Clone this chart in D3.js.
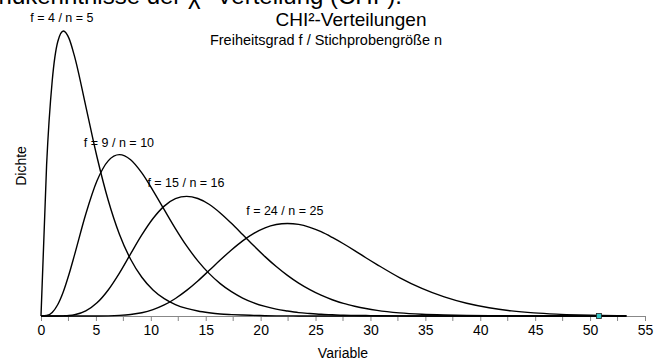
<!DOCTYPE html>
<html>
<head>
<meta charset="utf-8">
<script src="https://cdn.jsdelivr.net/npm/d3@7"></script>
<style>
  body { margin: 0; background: #fff; }
  svg { display: block; font-family: "Liberation Sans", Arial, sans-serif; }
</style>
</head>
<body>
<svg id="chart" width="663" height="361"></svg>
<script>
// x positions (as placed in the picture) where the densities were read
const xs = [0, 0.51, 1.02, 1.53, 2.04, 2.55, 3.06, 4.08, 5.1, 6.12, 7.14, 8.16, 9.18, 10.2,
  11.22, 12.24, 13.26, 14.28, 15.3, 16.32, 17.34, 18.36, 19.38, 20.4, 21.42, 22.44,
  23.46, 24.48, 25.5, 26.52, 27.54, 28.56, 29.58, 30.6,
  32.64, 34.68, 36.72, 38.76, 40.8, 42.84, 44.88, 46.92, 48.96, 51.0, 52.5, 53.3];

const densF4 = [0, 0.0974, 0.1516, 0.1771, 0.1839, 0.1791, 0.1673, 0.1353, 0.1026, 0.0747,
  0.0528, 0.0366, 0.0250, 0.0168, 0.0112, 0.0074, 0.0049, 0.0032, 0.0021,
  0.0013, 0.0009, 0.0006, 0.0004, 0.0002, 0.0001, 0.0001, 0, 0, 0, 0, 0, 0, 0, 0,
  0, 0, 0, 0, 0, 0, 0, 0, 0, 0, 0, 0];

const densF9 = [0, 0.0003, 0.0023, 0.0074, 0.0158, 0.0269, 0.0396, 0.0658, 0.0872, 0.1001,
  0.1041, 0.1008, 0.0923, 0.0809, 0.0686, 0.0564, 0.0452, 0.0356, 0.0275,
  0.0209, 0.0157, 0.0116, 0.0085, 0.0062, 0.0044, 0.0032, 0.0022, 0.0016, 0.0011,
  0.0008, 0.0005, 0.0004, 0.0003, 0.0002,
  0.0001, 0, 0, 0, 0, 0, 0, 0, 0, 0, 0, 0];

const densF15 = [0, 0, 0, 0, 0.0001, 0.0003, 0.0008, 0.0033, 0.0085, 0.0168,
  0.0277, 0.0401, 0.0523, 0.0629, 0.0709, 0.0757, 0.0772, 0.0758, 0.0721,
  0.0665, 0.0598, 0.0526, 0.0453, 0.0383, 0.0319, 0.0262, 0.0212, 0.0170, 0.0134,
  0.0105, 0.0081, 0.0063, 0.0048, 0.0036,
  0.0020, 0.0011, 0.0006, 0.0003, 0.0002, 0.0001, 0, 0, 0, 0, 0, 0];

const densF24 = [0, 0, 0, 0, 0, 0, 0, 0, 0, 0.0001,
  0.0004, 0.0010, 0.0021, 0.0041, 0.0071, 0.0113, 0.0165, 0.0226, 0.0293,
  0.0361, 0.0426, 0.0485, 0.0533, 0.0569, 0.0590, 0.0597, 0.0591, 0.0572, 0.0544,
  0.0507, 0.0466, 0.0422, 0.0376, 0.0332,
  0.0248, 0.0178, 0.0123, 0.0082, 0.0053, 0.0033, 0.0020, 0.0012, 0.0007, 0.0004, 0.0002, 0.0001];

const curveNames = ["f = 4 / n = 5", "f = 9 / n = 10", "f = 15 / n = 16", "f = 24 / n = 25"];
const curveValues = [densF4, densF9, densF15, densF24];
// label anchor (x value, density at baseline)
const labelX = [1.9, 7.1, 13.2, 22.2];
const labelY = [0.1897, 0.109, 0.0832, 0.0652];

const xTicks = d3.range(0, 55.1, 5);
const xMinorTicks = d3.range(2.5, 55, 5);
const markerX = [50.8];

const svg = d3.select("#chart");
const x = d3.scaleLinear().domain([0, 55]).range([41, 645]);
const y = d3.scaleLinear().domain([0, 0.19]).range([316, 21.5]);

// clipped heading of the surrounding document
svg.append("text")
  .attr("x", 402).attr("y", 4)
  .attr("text-anchor", "end")
  .attr("font-size", 24)
  .text("Grundkenntnisse der χ²-Verteilung (CHI²).");

svg.append("text")
  .attr("x", 351).attr("y", 26)
  .attr("text-anchor", "middle")
  .attr("font-size", 19)
  .text("CHI²-Verteilungen");

svg.append("text")
  .attr("x", 326).attr("y", 45)
  .attr("text-anchor", "middle")
  .attr("font-size", 14.5)
  .text("Freiheitsgrad f / Stichprobengröße n");

// axis
const axis = svg.append("g")
  .attr("transform", "translate(0,316)")
  .call(d3.axisBottom(x).tickValues(xTicks).tickSize(5).tickSizeOuter(0).tickPadding(4));
axis.select(".domain").attr("stroke", "#888");
axis.selectAll(".tick line").attr("stroke", "#888");
axis.selectAll(".tick text").attr("font-size", 14).attr("font-family", "Liberation Sans, Arial, sans-serif").attr("fill", "#000");

svg.append("g")
  .selectAll("line")
  .data(xMinorTicks)
  .join("line")
  .attr("x1", d => x(d)).attr("x2", d => x(d))
  .attr("y1", 316).attr("y2", 321)
  .attr("stroke", "#888");

svg.append("text")
  .attr("x", 343).attr("y", 358)
  .attr("text-anchor", "middle")
  .attr("font-size", 14)
  .text("Variable");

svg.append("text")
  .attr("transform", "translate(26,166) rotate(-90)")
  .attr("text-anchor", "middle")
  .attr("font-size", 14)
  .text("Dichte");

const line = d3.line()
  .x((d, i) => x(xs[i]))
  .y(d => y(d))
  .curve(d3.curveMonotoneX);

svg.append("g")
  .selectAll("path")
  .data(curveValues)
  .join("path")
  .attr("d", line)
  .attr("fill", "none")
  .attr("stroke", "#000")
  .attr("stroke-width", 1.4);

svg.append("g")
  .selectAll("text")
  .data(curveNames)
  .join("text")
  .attr("x", (d, i) => x(labelX[i]))
  .attr("y", (d, i) => y(labelY[i]))
  .attr("text-anchor", "middle")
  .attr("font-size", 12.5)
  .text(d => d);

svg.append("g")
  .selectAll("rect")
  .data(markerX)
  .join("rect")
  .attr("x", d => x(d) - 2.5)
  .attr("y", 316 - 2.5)
  .attr("width", 5).attr("height", 5)
  .attr("fill", "#33c6c6")
  .attr("stroke", "#222")
  .attr("stroke-width", 0.8);
</script>
</body>
</html>
